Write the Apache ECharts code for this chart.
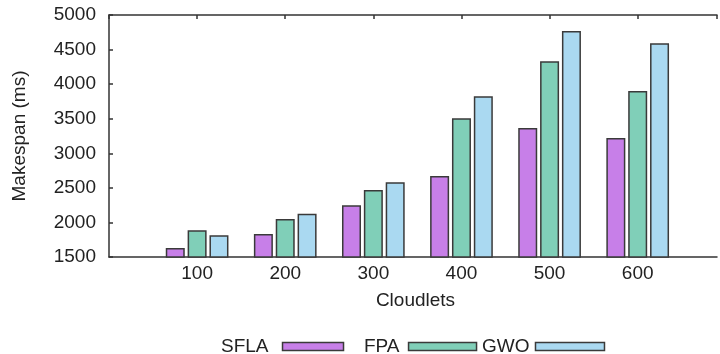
<!DOCTYPE html>
<html>
<head>
<meta charset="utf-8">
<script src="https://cdn.jsdelivr.net/npm/echarts@6/dist/echarts.min.js"></script>
<style>
    html, body { margin: 0; padding: 0; background: #fff; }
    #chart { width: 720px; height: 354px; }
</style>
</head>
<body>
<div id="chart"></div>
<script>
// data
var cloudlets = ['100', '200', '300', '400', '500', '600'];
var sfla = [1630, 1833, 2248, 2670, 3365, 3221];
var fpa = [1886, 2049, 2469, 3508, 4330, 3900];
var gwo = [1814, 2127, 2580, 3826, 4768, 4590];
var yTicks = { min: 1500, max: 5000, step: 500 };

var font = 'Liberation Sans, Arial, sans-serif';
var ink = '#222';
var fs = 19;

// bar positions are category indexes 0..5; the plot is cut off just short of 6
var xMin = -1;
var xMax = 5.9;

var toPairs = function (arr) {
    return arr.map(function (v, i) { return [i, v]; });
};

var barSeries = function (name, data, color) {
    return {
        name: name,
        type: 'bar',
        xAxisIndex: 0,
        barWidth: 19,
        barGap: '15%',
        itemStyle: {
            color: color,
            borderColor: '#3a3a3a',
            borderWidth: 1.5
        },
        data: toPairs(data)
    };
};

var legendItem = function (name, left, width, pad) {
    return {
        data: [{ name: name, icon: 'rect' }],
        left: left,
        top: 332,
        align: 'right',
        itemWidth: width,
        itemHeight: 8,
        selectedMode: false,
        itemStyle: { borderColor: '#3a3a3a', borderWidth: 1.5 },
        textStyle: { fontFamily: font, fontSize: fs, color: ink, padding: [0, pad, 0, 0] }
    };
};

var chart = echarts.init(document.getElementById('chart'), null, { renderer: 'canvas' });

chart.setOption({
    animation: false,
    backgroundColor: '#fff',
    grid: {
        left: 109,
        top: 15,
        right: 0,
        height: 242
    },
    legend: [
        legendItem('SFLA', 216, 61, 9),
        legendItem('FPA', 359, 68, 4),
        legendItem('GWO', 477, 69, 1)
    ],
    xAxis: [
        {
            type: 'value',
            position: 'bottom',
            min: xMin,
            max: xMax,
            interval: 1,
            name: 'Cloudlets',
            nameLocation: 'middle',
            nameGap: 34,
            nameTextStyle: { fontFamily: font, fontSize: fs, color: ink, padding: [0, 0, 0, 5] },
            axisLine: { show: true, onZero: false, lineStyle: { color: '#333', width: 1.5 } },
            axisTick: { show: false },
            splitLine: { show: false },
            axisLabel: {
                margin: 7,
                fontFamily: font,
                fontSize: fs,
                color: ink,
                formatter: function (v) {
                    return cloudlets[v] || '';
                }
            }
        },
        {
            type: 'value',
            position: 'top',
            min: xMin,
            max: xMax,
            interval: 1,
            axisLine: { show: true, onZero: false, lineStyle: { color: '#333', width: 1.5 } },
            axisTick: { show: true, inside: true, length: 4, lineStyle: { color: '#333', width: 1.5 } },
            axisLabel: { show: false },
            splitLine: { show: false }
        }
    ],
    yAxis: {
        type: 'value',
        min: yTicks.min,
        max: yTicks.max,
        interval: yTicks.step,
        name: 'Makespan (ms)',
        nameLocation: 'middle',
        nameGap: 80,
        nameTextStyle: { fontFamily: font, fontSize: fs, color: ink },
        axisLine: { show: true, onZero: false, lineStyle: { color: '#333', width: 1.5 } },
        axisTick: { show: true, inside: true, length: 4, lineStyle: { color: '#333', width: 1.5 } },
        splitLine: { show: false },
        axisLabel: {
            margin: 13,
            fontFamily: font,
            fontSize: fs,
            color: ink,
            formatter: function (v) { return String(v); }
        }
    },
    series: [
        barSeries('SFLA', sfla, '#c77fe8'),
        barSeries('FPA', fpa, '#80cfb8'),
        barSeries('GWO', gwo, '#aad9f1')
    ]
});
</script>
</body>
</html>
